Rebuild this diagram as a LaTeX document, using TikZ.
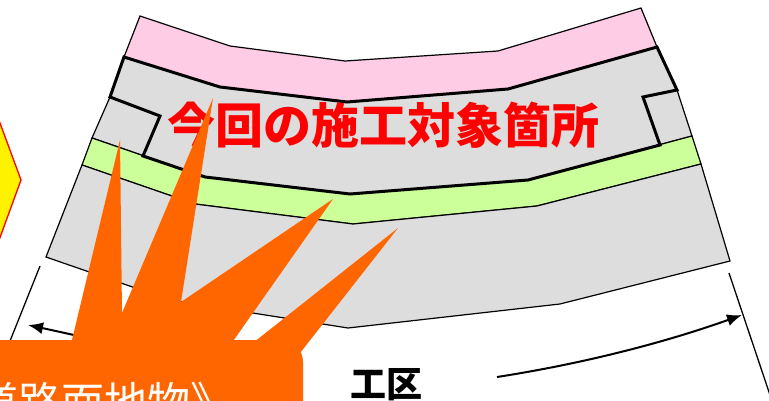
\documentclass[tikz,border=0pt]{standalone}
\usepackage{fontspec}
\newfontfamily\jp{Noto Sans CJK JP}
\usetikzlibrary{arrows.meta}
\definecolor{bandpink}{HTML}{FFCCE6}
\definecolor{bandgray}{HTML}{DDDDDD}
\definecolor{bandgreen}{HTML}{CCFF99}
\definecolor{burst}{HTML}{FF6600}
\tikzset{
  band/.style={draw=black, line width=1.2pt},
  worksite/.style={draw=black, line width=3pt},
  extline/.style={draw=black, line width=1.3pt},
  dimarrow/.style={draw=black, line width=2pt, -{Latex[length=15pt,width=12pt]}},
}
\begin{document}
\begin{tikzpicture}[x=1pt,y=-1pt]
\useasboundingbox (0,0) rectangle (769,401);
\clip (0,0) rectangle (769,401);

% outer edges of the road section
\coordinate (L0) at (140,16);  \coordinate (R0) at (641,8);
\coordinate (L1) at (124,57);  \coordinate (R1) at (657,47);
\coordinate (L2) at (110,97);  \coordinate (R2) at (677,90);
\coordinate (L3) at (92,138);  \coordinate (R3) at (692,136);
\coordinate (L4) at (82,165);  \coordinate (R4) at (701,164);
\coordinate (L5) at (46,257);  \coordinate (R5) at (730,261);
% bend points of the band boundaries
\coordinate (A1) at (230,46);  \coordinate (A2) at (345,61);  \coordinate (A3) at (498,51);
\coordinate (B1) at (220,87);  \coordinate (B2) at (347,102); \coordinate (B3) at (508,89);
\coordinate (C1) at (205,177); \coordinate (C2) at (350,194); \coordinate (C3) at (528,180);
\coordinate (D1) at (195,204); \coordinate (D2) at (353,224); \coordinate (D3) at (537,206);
\coordinate (E1) at (170,300); \coordinate (E2) at (348,328); \coordinate (E3) at (560,304);
% notches of the work area
\coordinate (N2) at (160,116); \coordinate (N3) at (143,156);
\coordinate (M2) at (643,97);  \coordinate (M3) at (660,145);

% bands
\path[band, fill=bandpink] (L0) -- (A1) -- (A2) -- (A3) -- (R0) -- (R1) -- (B3) -- (B2) -- (B1) -- (L1) -- cycle;
\path[band, fill=bandgray] (L1) -- (B1) -- (B2) -- (B3) -- (R1) -- (R2) -- (R3) -- (C3) -- (C2) -- (C1) -- (L3) -- (L2) -- cycle;
\path[band, fill=bandgreen] (L3) -- (C1) -- (C2) -- (C3) -- (R3) -- (R4) -- (D3) -- (D2) -- (D1) -- (L4) -- cycle;
\path[band, fill=bandgray] (L4) -- (D1) -- (D2) -- (D3) -- (R4) -- (R5) -- (E3) -- (E2) -- (E1) -- (L5) -- cycle;

% work area outline
\path[worksite] (L1) -- (B1) -- (B2) -- (B3) -- (R1) -- (R2) -- (M2) -- (M3) -- (C3) -- (C2) -- (C1) -- (N3) -- (N2) -- (L2) -- cycle;

% title of the work area
\node[anchor=base west, inner sep=0pt, text=red, font=\jp\bfseries\fontsize{48}{48}\selectfont] (title) at (167,144) {今回の施工対象箇所};

% section extent
\coordinate (X1) at (40,266);  \coordinate (X2) at (0,366);
\coordinate (X3) at (729,273); \coordinate (X4) at (772,401);
\path[extline] (X1) -- (X2);
\path[extline] (X3) -- (X4);
\coordinate (Q0) at (279,377); \coordinate (T1) at (28,325);
\coordinate (Q1) at (497,377); \coordinate (T2) at (742,315);
\path[dimarrow] (Q0) .. controls (196,364) and (114,343.5) .. (T1);
\path[dimarrow] (Q1) .. controls (580.7,364) and (662,343.5) .. (T2);
\node[anchor=base west, inner sep=0pt, font=\jp\bfseries\fontsize{36}{36}\selectfont] (zone) at (350,397) {工区};

% yellow marker at the left edge
\coordinate (Y1) at (-2,117.6); \coordinate (Y2) at (21,180); \coordinate (Y3) at (-2,243);
\path[draw=red, line width=1.3pt, fill=yellow] (Y1) -- (Y2) -- (Y3) -- (-40,243) -- (-40,117.6) -- cycle;

% burst callout
\fill[burst, rounded corners=22pt] (-40,340) rectangle (303,440);
\fill[burst] (72,340) -- (120,140) -- (122,313) -- (213,98) -- (181,302) -- (333,199)
  -- (205,381) -- (398,228) -- (293,362) -- (280,420) -- (-30,420) -- (-30,340) -- cycle;
\node[anchor=base west, inner sep=0pt, text=white, font=\jp\fontsize{43}{43}\selectfont] (callout) at (-68,418) {《道路面地物》};
\end{tikzpicture}
\end{document}
